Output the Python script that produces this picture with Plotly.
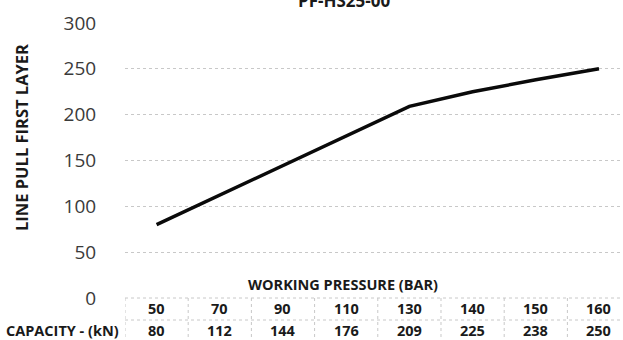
import plotly.graph_objects as go

title = "PF-HS25-00"
pressure = ["50", "70", "90", "110", "130", "140", "150", "160"]
capacity = [80, 112, 144, 176, 209, 225, 238, 250]
y_ticks = [0, 50, 100, 150, 200, 250, 300]
y_title = "LINE PULL FIRST LAYER"
x_title = "WORKING PRESSURE (BAR)"
row_label = "CAPACITY - (kN)"

W, H = 623, 340
L, R, T, B = 125, 0, 23, 42
pw, ph = W - L - R, H - T - B

def px(x):
    return (x - L) / pw

def py(y):
    return (H - B - y) / ph

FONT = "Open Sans"
TXT = "#1a1a1a"

fig = go.Figure()
fig.add_trace(go.Scatter(
    x=list(range(len(pressure))), y=capacity, mode="lines",
    line=dict(color="#0a0a0a", width=3.5), hoverinfo="skip", showlegend=False,
))

ann = []
ann.append(dict(text=f"<b>{title}</b>", x=px(344), y=py(1), xref="paper", yref="paper",
                showarrow=False, font=dict(family=FONT, size=17, color=TXT),
                xanchor="center", yanchor="middle"))
ann.append(dict(text=f"<b>{y_title}</b>", x=px(21), y=py(138), xref="paper", yref="paper",
                showarrow=False, textangle=-90, font=dict(family=FONT, size=16.5, color=TXT),
                xanchor="center", yanchor="middle"))
ann.append(dict(text=f"<b>{x_title}</b>", x=px(343), y=py(284), xref="paper", yref="paper",
                showarrow=False, font=dict(family=FONT, size=14.5, color=TXT),
                xanchor="center", yanchor="middle"))
ann.append(dict(text=f"<b>{row_label}</b>", x=px(62), y=py(330), xref="paper", yref="paper",
                showarrow=False, font=dict(family=FONT, size=14.5, color=TXT),
                xanchor="center", yanchor="middle"))
for i, (p, c) in enumerate(zip(pressure, capacity)):
    ann.append(dict(text=f"<b>{p}</b>", x=i, y=py(308), xref="x", yref="paper",
                    showarrow=False, font=dict(family=FONT, size=14.5, color=TXT),
                    xanchor="center", yanchor="middle"))
    ann.append(dict(text=f"<b>{c}</b>", x=i, y=py(330), xref="x", yref="paper",
                    showarrow=False, font=dict(family=FONT, size=14.5, color=TXT),
                    xanchor="center", yanchor="middle"))

shapes = []
grid = dict(color="#c8c8c8", width=1, dash="dot")
n = len(pressure)
shapes.append(dict(type="line", xref="x", yref="paper", x0=-0.5, x1=n - 0.5,
                   y0=py(298), y1=py(298), line=grid))
shapes.append(dict(type="line", xref="x", yref="paper", x0=-0.5, x1=n - 0.5,
                   y0=py(320), y1=py(320), line=grid))
for i in range(n + 1):
    shapes.append(dict(type="line", xref="x", yref="paper", x0=i - 0.5, x1=i - 0.5,
                       y0=py(298), y1=py(340), line=grid))

fig.update_layout(
    width=W, height=H,
    margin=dict(l=L, r=R, t=T, b=B, pad=0),
    paper_bgcolor="white", plot_bgcolor="white",
    annotations=ann, shapes=shapes,
    xaxis=dict(range=[-0.5, 7.38], showticklabels=False, showgrid=False,
               zeroline=False, showline=False, ticks=""),
    yaxis=dict(range=[0, 300], tickvals=y_ticks, showgrid=True, gridcolor="#c8c8c8",
               griddash="dot", gridwidth=1, zeroline=False, showline=False,
               ticks="outside", ticklen=24, tickcolor="rgba(0,0,0,0)",
               tickfont=dict(family=FONT, size=19, color="#3a3a3a")),
)
fig.write_html("out.html", config={"displayModeBar": False},
               post_script="document.body.style.margin='0px';document.body.style.overflow='hidden';")
